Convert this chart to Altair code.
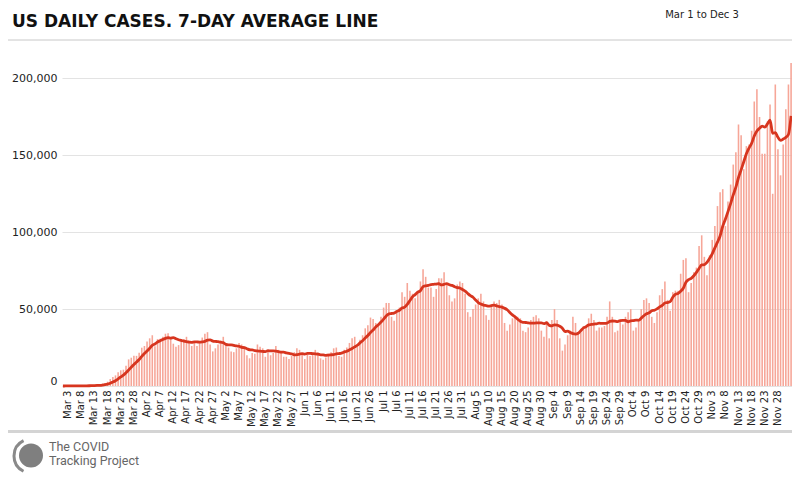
import altair as alt
import pandas as pd

# Daily new cases, Mar 1 .. Dec 3
mar = [15, 20, 25, 30, 60, 80, 100, 120, 170, 250, 300, 400, 600, 700, 900, 1300,
       1800, 2800, 4500, 5800, 6900, 9000, 10200, 10600, 13200, 17300, 18400, 19600,
       19600, 21700, 24900]
apr = [26000, 29000, 31000, 33000, 25800, 30500, 30800, 32000, 34000, 34300, 30700,
       27500, 25500, 26600, 29000, 30500, 32000, 29000, 26000, 28000, 26000, 28500,
       31500, 34000, 35000, 27000, 22500, 24500, 27000, 29500]
may = [32000, 27000, 25000, 22500, 22000, 24500, 28000, 27000, 25500, 20000, 18000,
       21500, 21000, 27000, 25500, 24500, 19000, 22500, 20000, 21500, 26000, 23500,
       21500, 19000, 19000, 17500, 19500, 22000, 24500, 23500, 21000]
jun = [17500, 20500, 19500, 21000, 23500, 22000, 18000, 17000, 18500, 21000, 22000,
       24500, 25000, 19500, 19000, 23500, 25000, 28000, 31000, 32000, 27000, 30000,
       33000, 37500, 39500, 44500, 43500, 41000, 40000, 45000]
jul = [51000, 54000, 54000, 45000, 42500, 47500, 51000, 61000, 58000, 67000, 62000,
       60000, 57000, 62000, 68000, 76000, 71000, 64000, 64000, 58000, 63000, 70000,
       70000, 74000, 67000, 59000, 55000, 57000, 66000, 68000, 67000]
aug = [60000, 48000, 45000, 50000, 53000, 57000, 60000, 55000, 46000, 43000, 52000,
       55000, 54000, 56000, 53000, 41000, 36000, 40000, 44000, 45000, 45000, 44000,
       36000, 35000, 38000, 43000, 45000, 46000, 44000, 36000, 32000]
sep = [42000, 31000, 43000, 50000, 43000, 31000, 23000, 27000, 33000, 36000, 45000,
       41000, 35000, 35000, 39000, 39000, 44000, 47000, 43000, 36000, 38000, 38000,
       39000, 45000, 55000, 45000, 35000, 36000, 43000, 40000]
oct_ = [45000, 48000, 50000, 36000, 38000, 42000, 50000, 56000, 57000, 54000, 45000,
        41000, 48000, 59000, 63000, 68000, 56000, 49000, 61000, 62000, 62000, 73000,
        82000, 83000, 61000, 67000, 74000, 77000, 91000, 98000, 84000]
nov = [72000, 85000, 95000, 104000, 117000, 126000, 128000, 104000, 120000, 131000,
       144000, 152000, 170000, 163000, 141000, 156000, 157000, 166000, 185000, 193000,
       175000, 151000, 151000, 172000, 183000, 125000, 196000, 154000, 137000, 157000]
dec = [180000, 196000, 210000]

cases = mar + apr + may + jun + jul + aug + sep + oct_ + nov + dec
dates = pd.date_range("2020-03-01", periods=len(cases), freq="D")
labels = [f"{d.strftime('%b')} {d.day}" for d in dates]
tick_labels = labels[2:273:5]
y_ticks = [0, 50000, 100000, 150000, 200000]

df = pd.DataFrame({"idx": list(range(len(cases))), "day": labels, "cases": cases})

FONT = "DejaVu Sans"
BAR = "#f6a698"
LINE = "#d7351f"

x_enc = alt.X(
    "day:N", sort=None,
    scale=alt.Scale(paddingInner=0.4, paddingOuter=0.05),
    axis=alt.Axis(values=tick_labels, labelAngle=-90, title=None, domain=False,
                  ticks=False, labelFontSize=10, labelFont=FONT, labelColor="#222",
                  labelPadding=4, labelOverlap=False, grid=False),
)
y_scale = alt.Scale(domain=[0, 212000], nice=False)

bars = alt.Chart(df).mark_bar(color=BAR).encode(
    x=x_enc,
    y=alt.Y("cases:Q", scale=y_scale,
            axis=alt.Axis(values=y_ticks, format=",.0f", title=None, domain=False,
                          ticks=False, labelFontSize=11, labelFont=FONT,
                          labelColor="#222", labelPadding=5, labelFlush=True,
                          gridColor="#e3e3e3", gridWidth=1)),
)

line = alt.Chart(df).transform_window(
    avg="mean(cases)", frame=[-6, 0], sort=[alt.SortField("idx")]
).mark_line(color=LINE, strokeWidth=2.8, interpolate="monotone").encode(
    x=alt.X("day:N", sort=None),
    y=alt.Y("avg:Q", scale=y_scale),
)

one = pd.DataFrame({"k": [0]})

title = alt.Chart(one).mark_text(
    align="left", baseline="alphabetic", font=FONT, fontSize=17,
    fontWeight="bold", color="#111"
).encode(x=alt.value(-50), y=alt.value(-33),
         text=alt.value("US DAILY CASES. 7-DAY AVERAGE LINE"))

subtitle = alt.Chart(one).mark_text(
    align="center", baseline="top", font=FONT, fontSize=10, color="#222"
).encode(x=alt.value(640), y=alt.value(-50), text=alt.value("Mar 1 to Dec 3"))

top_rule = alt.Chart(one).mark_rule(color="#c8c8c8", strokeWidth=1).encode(
    x=alt.value(-54), x2=alt.value(730), y=alt.value(-20))

bottom_rule = alt.Chart(one).mark_rule(color="#d4d4d4", strokeWidth=3).encode(
    x=alt.value(-54), x2=alt.value(730), y=alt.value(371.5))

ring = alt.Chart(one).mark_arc(
    radius=18.5, radius2=15.5, theta=3.6, theta2=5.83, color="#8a8a8a"
).encode(x=alt.value(-31), y=alt.value(396))

disc = alt.Chart(one).mark_arc(
    radius=12, radius2=0, theta=0, theta2=6.2832, color="#7f7f7f"
).encode(x=alt.value(-31), y=alt.value(395.5))

logo1 = alt.Chart(one).mark_text(
    align="left", baseline="middle", font="Roboto", fontSize=12.5, color="#666666"
).encode(x=alt.value(-13), y=alt.value(387), text=alt.value("The COVID"))

logo2 = alt.Chart(one).mark_text(
    align="left", baseline="middle", font="Roboto", fontSize=12.5, color="#666666"
).encode(x=alt.value(-13), y=alt.value(401), text=alt.value("Tracking Project"))

chart = alt.layer(
    bars, line, title, subtitle, top_rule, bottom_rule, ring, disc, logo1, logo2
).properties(
    width=730, height=326,
    padding={"left": 54, "top": 52, "right": 0, "bottom": 92},
    autosize=alt.AutoSizeParams(type="none"),
).configure_view(stroke=None)

chart.save("out.html", embed_options={"renderer": "svg", "actions": False})
